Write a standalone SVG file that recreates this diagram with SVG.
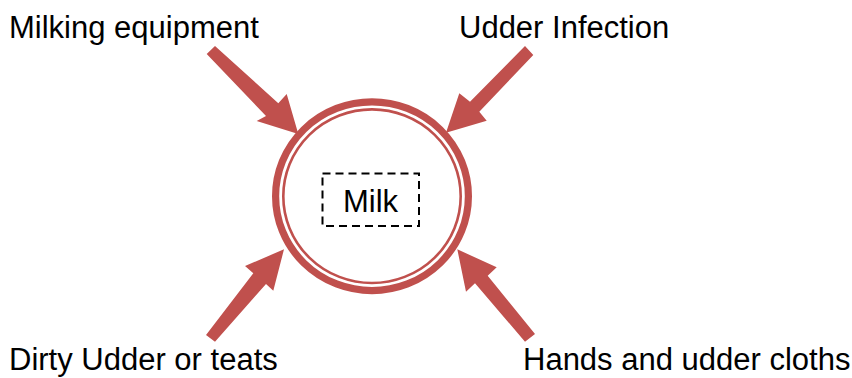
<svg xmlns="http://www.w3.org/2000/svg" width="852" height="378" viewBox="0 0 852 378">
  <style>
    .label { font-family: "Liberation Sans", Arial, sans-serif; font-size: 31px; fill: #000; }
    .arrow { fill: #C0504D; }
    .ring { fill: none; stroke: #C0504D; }
  </style>
  <rect width="852" height="378" fill="#fff"/>

  <!-- central milk node: double ring with dashed label box -->
  <g id="milk">
    <ellipse class="ring" cx="372" cy="196.2" rx="96.4" ry="94.4" stroke-width="7.2"/>
    <ellipse class="ring" cx="372" cy="196.2" rx="88.7" ry="86.8" stroke-width="2.6"/>
    <rect x="322.5" y="173.5" width="96.5" height="52.5" fill="#fff" stroke="#000" stroke-width="2" stroke-dasharray="8 5"/>
    <text class="label" x="370.5" y="211.5" text-anchor="middle">Milk</text>
  </g>

  <g id="milking-equipment">
    <text class="label" x="9" y="38.3">Milking equipment</text>
  </g>
  <g id="udder-infection">
    <text class="label" x="459" y="38.3">Udder Infection</text>
  </g>
  <g id="dirty-udder">
    <text class="label" x="9" y="370">Dirty Udder or teats</text>
  </g>
  <g id="hands-cloths">
    <text class="label" x="523" y="370">Hands and udder cloths</text>
  </g>

  <!-- block arrows pointing at the milk ring -->
  <g id="connectors">
    <polygon class="arrow" points="215,46 278.3,103.3 286.7,94 298.3,134 256.7,121 266,116 206.7,54"/>
    <polygon class="arrow" points="525,46 533.3,55 479.3,111.7 486.7,120.7 446,132.7 459.3,93.3 470,101.7"/>
    <polygon class="arrow" points="206,335 253.3,273.3 245,266 284,249.3 273.3,290.7 266,284 215,341.7"/>
    <polygon class="arrow" points="535,334 487.7,275.7 496.7,267.3 457.3,249.3 466,291.7 475,283.3 525,341.7"/>
  </g>
</svg>
